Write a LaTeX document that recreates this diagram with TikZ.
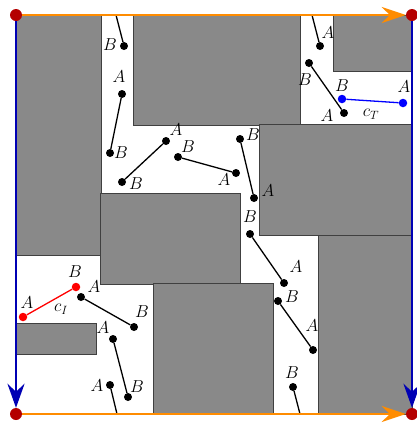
\documentclass[tikz,border=0pt]{standalone}
\usetikzlibrary{arrows.meta}
\definecolor{obst}{RGB}{137,137,137}
\definecolor{pathorange}{RGB}{255,140,0}
\definecolor{pathblue}{RGB}{0,0,180}
\definecolor{corner}{RGB}{180,0,0}
\tikzset{
  obstacle/.style={fill=obst, draw=black!75, line width=0.5pt},
  pt/.style={circle, fill=black, inner sep=0pt, minimum size=8pt},
  redpt/.style={circle, fill=red, inner sep=0pt, minimum size=8.5pt},
  bluept/.style={circle, fill=blue, inner sep=0pt, minimum size=8.5pt},
  seg/.style={line width=1.3pt},
  lbl/.style={font=\fontsize{17}{20}\selectfont, inner sep=0pt},
  cornerdot/.style={circle, fill=corner, inner sep=0pt, minimum size=12pt},
  hpath/.style={pathorange, line width=2.8pt, -{Stealth[length=24pt,width=16pt,inset=8pt]}},
  vpath/.style={pathblue, line width=2.8pt, -{Stealth[length=24pt,width=17pt,inset=8pt]}},
}
\begin{document}
\begin{tikzpicture}[x=1pt,y=-1pt]
\useasboundingbox (0,0) rectangle (416,424);

% obstacles
\draw[obstacle] (16,15) rectangle (101,255);
\draw[obstacle] (100,193) rectangle (240,284);
\draw[obstacle] (153,283) rectangle (273,414);
\draw[obstacle] (133,15) rectangle (300,125);
\draw[obstacle] (333,15) rectangle (412,71);
\draw[obstacle] (259,124) rectangle (412,235);
\draw[obstacle] (318,235) rectangle (412,414);
\draw[obstacle] (16,323) rectangle (96,354);

% corners
\node[cornerdot] (tl) at (16,15) {};
\node[cornerdot] (tr) at (412,15) {};
\node[cornerdot] (bl) at (16,414) {};
\node[cornerdot] (br) at (412,414) {};

% free ends on the border
\coordinate (e1) at (116,15);
\coordinate (e8) at (300,414);
\coordinate (e9) at (117,414);
\coordinate (e12) at (312,15);

% segment endpoints
\node[pt] (d1b) at (124,46) {};
\node[pt] (d2a) at (122,94) {};
\node[pt] (d2b) at (110,153) {};
\node[pt] (d3a) at (166,141) {};
\node[pt] (d3b) at (122,182) {};
\node[pt] (d4b) at (178,157) {};
\node[pt] (d4a) at (236,173) {};
\node[pt] (d5b) at (240,139) {};
\node[pt] (d5a) at (254,198) {};
\node[pt] (d6b) at (250,234) {};
\node[pt] (d6a) at (284,283) {};
\node[pt] (d7b) at (278,301) {};
\node[pt] (d7a) at (313,350) {};
\node[pt] (d8b) at (293,387) {};
\node[pt] (d9a) at (110,385) {};
\node[pt] (d10a) at (113,339) {};
\node[pt] (d10b) at (128,397) {};
\node[pt] (d11a) at (81,297) {};
\node[pt] (d11b) at (134,327) {};
\node[pt] (d12a) at (320,46) {};
\node[pt] (d13b) at (309,63) {};
\node[pt] (d13a) at (344,113) {};
\node[redpt] (rA) at (23,317) {};
\node[redpt] (rB) at (76,287) {};
\node[bluept] (bB) at (342,99) {};
\node[bluept] (bA) at (403,103) {};

% segments
\draw[seg] (e1) -- (d1b);
\draw[seg] (d2a) -- (d2b);
\draw[seg] (d3a) -- (d3b);
\draw[seg] (d4b) -- (d4a);
\draw[seg] (d5b) -- (d5a);
\draw[seg] (d6b) -- (d6a);
\draw[seg] (d7b) -- (d7a);
\draw[seg] (d8b) -- (e8);
\draw[seg] (d9a) -- (e9);
\draw[seg] (d10a) -- (d10b);
\draw[seg] (d11a) -- (d11b);
\draw[seg] (e12) -- (d12a);
\draw[seg] (d13b) -- (d13a);
\draw[seg, red] (rA) -- (rB);
\draw[seg, blue] (bB) -- (bA);

% labels
\node[lbl] (l1b) at (110,45) {$B$};
\node[lbl] (l2a) at (119,77) {$A$};
\node[lbl] (l2b) at (121,153) {$B$};
\node[lbl] (l3a) at (176,130) {$A$};
\node[lbl] (l3b) at (136,184) {$B$};
\node[lbl] (l4b) at (188,147) {$B$};
\node[lbl] (l4a) at (224,180) {$A$};
\node[lbl] (l5b) at (253,135) {$B$};
\node[lbl] (l5a) at (268,191) {$A$};
\node[lbl] (l6b) at (250,217) {$B$};
\node[lbl] (l6a) at (296,267) {$A$};
\node[lbl] (l7b) at (292,297) {$B$};
\node[lbl] (l7a) at (312,326) {$A$};
\node[lbl] (l8b) at (292,373) {$B$};
\node[lbl] (l9a) at (97,386) {$A$};
\node[lbl] (l10a) at (103,328) {$A$};
\node[lbl] (l10b) at (137,387) {$B$};
\node[lbl] (l11a) at (94,287) {$A$};
\node[lbl] (l11b) at (142,312) {$B$};
\node[lbl] (lrA) at (27,303) {$A$};
\node[lbl] (lrB) at (75,272) {$B$};
\node[lbl] (lcI) at (61,309) {$c_I$};
\node[lbl] (l12a) at (328,33) {$A$};
\node[lbl] (l13b) at (305,80) {$B$};
\node[lbl] (l13a) at (327,116) {$A$};
\node[lbl] (lbB) at (342,86) {$B$};
\node[lbl] (lbA) at (404,87) {$A$};
\node[lbl] (lcT) at (371,114) {$c_T$};

% boundary paths
\draw[hpath] (tl) -- (tr);
\draw[hpath] (bl) -- (br);
\draw[vpath] (tl) -- (bl);
\draw[vpath] (tr) -- (br);
\end{tikzpicture}
\end{document}
